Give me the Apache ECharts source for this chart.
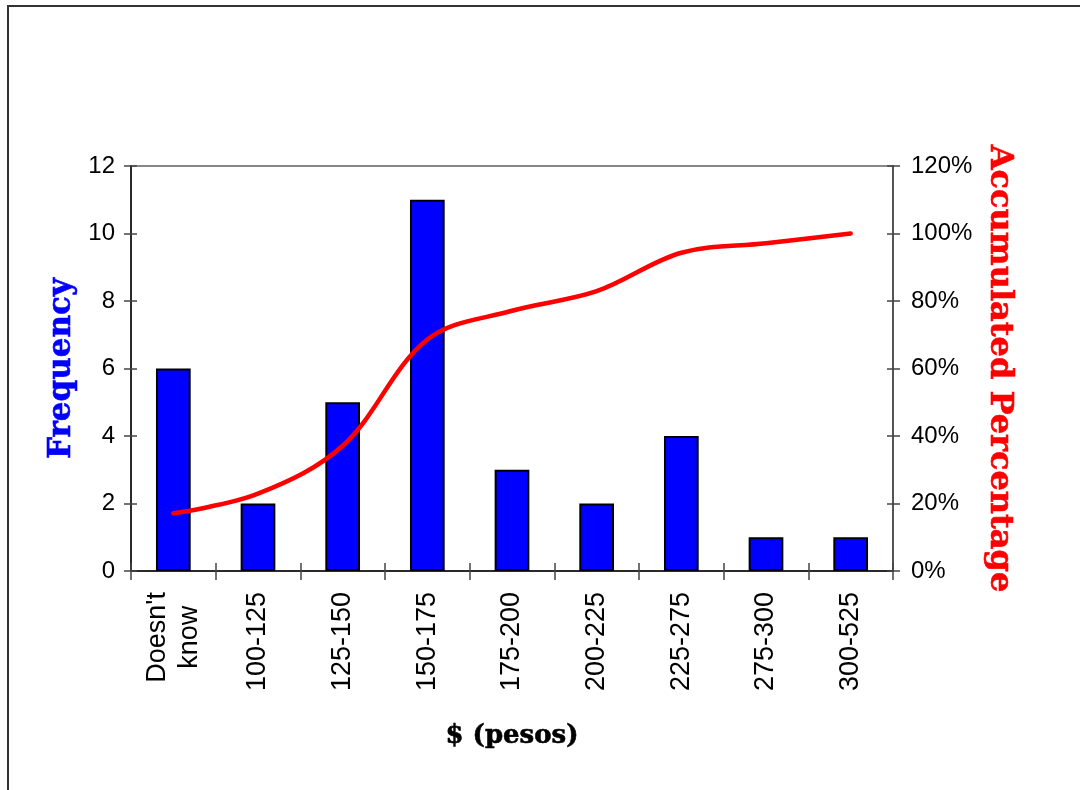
<!DOCTYPE html>
<html>
<head>
<meta charset="utf-8">
<title>Frequency and accumulated percentage by price</title>
<script src="https://cdn.jsdelivr.net/npm/echarts@6/dist/echarts.min.js"></script>
<style>
  html, body { margin: 0; padding: 0; background: #ffffff; }
  #chart { width: 1080px; height: 790px; }
</style>
</head>
<body>
<div id="chart"></div>
<script>
// Price ranges in pesos
const categories = ["Doesn't\nknow", '100-125', '125-150', '150-175', '175-200', '200-225', '225-275', '275-300', '300-525'];
// Number of answers per range
const frequency = [6, 2, 5, 11, 3, 2, 4, 1, 1];
// Running share of answers, in percent
const accumulated = [17.1, 22.9, 37.1, 68.6, 77.1, 82.9, 94.3, 97.1, 100];
// Axis ranges
const freqTicks = { min: 0, max: 12, interval: 2 };
const pctTicks = { min: 0, max: 120, interval: 20 };

const tickFont = 'Liberation Sans, Arial, sans-serif';
const titleFont = 'DejaVu Serif, serif';

const chart = echarts.init(document.getElementById('chart'), null, { renderer: 'canvas' });

const axisLineDark = { show: true, lineStyle: { color: '#2a2a2a', width: 2 } };
const tickStyle = { color: '#444', width: 1.5 };

chart.setOption({
  backgroundColor: '#ffffff',
  animation: false,
  graphic: [
    {
      type: 'rect',
      silent: true,
      shape: { x: 8, y: 6, width: 1300, height: 1000 },
      style: { fill: 'none', stroke: '#333333', lineWidth: 2 }
    }
  ],
  grid: {
    left: 131, right: 187, top: 166, bottom: 219,
    show: true, borderColor: '#888888', borderWidth: 2,
    containLabel: false, outerBoundsMode: 'none'
  },
  xAxis: [
    {
      type: 'category',
      data: categories,
      boundaryGap: true,
      position: 'bottom',
      axisLine: axisLineDark,
      axisTick: { show: true, inside: false, length: 9, alignWithLabel: false, lineStyle: tickStyle },
      axisLabel: {
        rotate: 90, margin: 21, interval: 0,
        color: '#000', fontFamily: tickFont, fontSize: 27, lineHeight: 32,
        formatter: (v) => v.split('\n').map(s => '{c|' + s + '}').join('\n'),
        rich: { c: { align: 'center', fontFamily: tickFont, fontSize: 27, lineHeight: 32, color: '#000' } }
      },
      name: '$ (pesos)',
      nameLocation: 'middle',
      nameGap: 152,
      nameTextStyle: {
        fontFamily: titleFont, fontWeight: 'bold', fontSize: 26, color: '#000',
        textBorderColor: '#000', textBorderWidth: 0.6
      },
      splitLine: { show: false }
    },
    {
      // inner half of the category ticks
      type: 'category',
      data: categories,
      position: 'bottom',
      axisLine: { show: false },
      axisTick: { show: true, inside: true, length: 8, lineStyle: tickStyle },
      axisLabel: { show: false },
      splitLine: { show: false }
    }
  ],
  yAxis: [
    {
      type: 'value',
      position: 'left',
      min: freqTicks.min, max: freqTicks.max, interval: freqTicks.interval,
      axisLine: axisLineDark,
      axisTick: { show: true, inside: false, length: 7, lineStyle: tickStyle },
      axisLabel: { margin: 16, color: '#000', fontFamily: tickFont, fontSize: 24 },
      splitLine: { show: false },
      name: 'Frequency',
      nameLocation: 'middle',
      nameGap: 47,
      nameRotate: 90,
      nameTextStyle: {
        fontFamily: titleFont, fontWeight: 'bold', fontSize: 31, color: '#0000ff',
        textBorderColor: '#0000ff', textBorderWidth: 0.6
      }
    },
    {
      type: 'value',
      position: 'right',
      min: pctTicks.min, max: pctTicks.max, interval: pctTicks.interval,
      axisLine: { show: true, lineStyle: { color: '#555555', width: 2 } },
      axisTick: { show: true, inside: false, length: 7, lineStyle: tickStyle },
      axisLabel: { margin: 18, color: '#000', fontFamily: tickFont, fontSize: 24, formatter: '{value}%' },
      splitLine: { show: false },
      name: 'Accumulated Percentage',
      nameLocation: 'middle',
      nameGap: 76,
      nameRotate: -90,
      nameTextStyle: {
        fontFamily: titleFont, fontWeight: 'bold', fontSize: 32, color: '#ff0000',
        textBorderColor: '#ff0000', textBorderWidth: 0.6
      }
    },
    {
      // inner half of the left ticks
      type: 'value', position: 'left',
      min: freqTicks.min, max: freqTicks.max, interval: freqTicks.interval,
      axisLine: { show: false },
      axisTick: { show: true, inside: true, length: 6, lineStyle: tickStyle },
      axisLabel: { show: false }, splitLine: { show: false }
    },
    {
      // inner half of the right ticks
      type: 'value', position: 'right',
      min: pctTicks.min, max: pctTicks.max, interval: pctTicks.interval,
      axisLine: { show: false },
      axisTick: { show: true, inside: true, length: 6, lineStyle: tickStyle },
      axisLabel: { show: false }, splitLine: { show: false }
    }
  ],
  series: [
    {
      name: 'Frequency',
      type: 'bar',
      xAxisIndex: 0,
      yAxisIndex: 0,
      data: frequency,
      barWidth: '41%',
      itemStyle: { color: '#0000ff', borderColor: '#000000', borderWidth: 2 },
      z: 2
    },
    {
      name: 'Accumulated Percentage',
      type: 'line',
      xAxisIndex: 0,
      yAxisIndex: 1,
      data: accumulated,
      smooth: 0.35,
      symbol: 'none',
      lineStyle: { color: '#ff0000', width: 4.5, cap: 'round', join: 'round' },
      z: 3
    }
  ]
});
</script>
</body>
</html>
